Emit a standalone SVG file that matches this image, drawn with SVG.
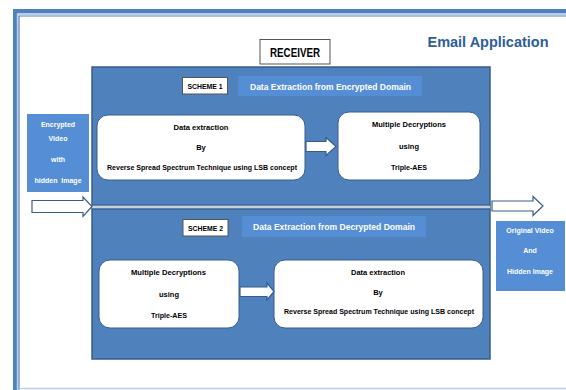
<svg xmlns="http://www.w3.org/2000/svg" width="566" height="390" viewBox="0 0 566 390">
<style>
text{font-family:"Liberation Sans",Arial,sans-serif;font-weight:bold;text-anchor:middle}
.dk{fill:#000;font-size:7.5px}
.wt{fill:#fff;font-size:7px}
.band{fill:#558ED5}
.bandtxt{fill:#fff;font-size:9.5px}
.box{fill:#fff;stroke:#385D8A;stroke-width:1}
.arrow{fill:#fff;stroke:#385D8A;stroke-width:1.2;stroke-linejoin:miter}
.lbl{fill:#fff;stroke:#555;stroke-width:1}
</style>
<rect width="566" height="390" fill="#fff"/>
<!-- frame -->
<g id="frame">
<line x1="13" y1="11" x2="566" y2="11" stroke="#4F81BD" stroke-width="4"/>
<line x1="15" y1="9" x2="15" y2="390" stroke="#4F81BD" stroke-width="4"/>
<line x1="17" y1="14" x2="566" y2="14" stroke="#B9CDE5" stroke-width="2"/>
<line x1="17.5" y1="14" x2="17.5" y2="390" stroke="#B9CDE5" stroke-width="1.5"/>
<line x1="18.5" y1="16" x2="566" y2="16" stroke="#4F81BD" stroke-width="1.2"/>
<line x1="19" y1="16" x2="19" y2="390" stroke="#4F81BD" stroke-width="1.2"/>
<line x1="19" y1="388.5" x2="566" y2="388.5" stroke="#B9CDE5" stroke-width="1.5"/>
</g>
<g id="title">
<text x="488" y="47" style="font-size:15.5px;fill:#2F5E99" textLength="121" lengthAdjust="spacingAndGlyphs">Email Application</text>
</g>
<g id="receiver">
<rect class="lbl" x="260" y="39.5" width="70" height="24.5"/>
<text x="295" y="57" style="font-size:12px;fill:#000" textLength="50" lengthAdjust="spacingAndGlyphs">RECEIVER</text>
</g>
<g id="panel">
<rect x="92" y="67" width="398" height="292" fill="#4F81BD" stroke="#385D8A" stroke-width="1.5"/>
<line x1="92" y1="205" x2="490" y2="205" stroke="#385D8A" stroke-width="1"/>
<line x1="92" y1="207" x2="490" y2="207" stroke="#C9D0DA" stroke-width="2.5"/>
<line x1="92" y1="209.2" x2="490" y2="209.2" stroke="#385D8A" stroke-width="1"/>
</g>
<g id="scheme1-label">
<rect class="lbl" x="182.5" y="77.5" width="45" height="16.5"/>
<text x="205" y="88.5" style="font-size:7px;fill:#000" textLength="35" lengthAdjust="spacingAndGlyphs">SCHEME 1</text>
<rect class="band" x="238" y="76" width="184" height="20"/>
<text class="bandtxt" x="330.5" y="89.5" textLength="161" lengthAdjust="spacingAndGlyphs">Data Extraction from Encrypted Domain</text>
</g>
<g id="s1-extract">
<rect class="box" x="97" y="115" width="208" height="65" rx="11"/>
<text class="dk" x="201" y="130" textLength="55" lengthAdjust="spacingAndGlyphs">Data extraction</text>
<text class="dk" x="201" y="150">By</text>
<text class="dk" x="202" y="170" textLength="190" lengthAdjust="spacingAndGlyphs">Reverse Spread Spectrum Technique using LSB concept</text>
</g>
<g id="s1-decrypt">
<rect class="box" x="338" y="112" width="142" height="68" rx="11"/>
<text class="dk" x="409" y="127" textLength="74" lengthAdjust="spacingAndGlyphs">Multiple Decryptions</text>
<text class="dk" x="409" y="149">using</text>
<text class="dk" x="409" y="170" textLength="36" lengthAdjust="spacingAndGlyphs">Triple-AES</text>
</g>
<g id="scheme2-label">
<rect class="lbl" x="183" y="219.5" width="45" height="16.5"/>
<text x="205.5" y="230.5" style="font-size:7px;fill:#000" textLength="35" lengthAdjust="spacingAndGlyphs">SCHEME 2</text>
<rect class="band" x="242" y="216" width="184" height="21"/>
<text class="bandtxt" x="334" y="230" textLength="162" lengthAdjust="spacingAndGlyphs">Data Extraction from Decrypted Domain</text>
</g>
<g id="s2-decrypt">
<rect class="box" x="99" y="260" width="140" height="68" rx="11"/>
<text class="dk" x="168.5" y="275" textLength="75" lengthAdjust="spacingAndGlyphs">Multiple Decryptions</text>
<text class="dk" x="169" y="297">using</text>
<text class="dk" x="169" y="318" textLength="36" lengthAdjust="spacingAndGlyphs">Triple-AES</text>
</g>
<g id="s2-extract">
<rect class="box" x="274" y="260" width="209" height="68" rx="11"/>
<text class="dk" x="378" y="275" textLength="54" lengthAdjust="spacingAndGlyphs">Data extraction</text>
<text class="dk" x="378" y="295">By</text>
<text class="dk" x="379" y="314" textLength="190" lengthAdjust="spacingAndGlyphs">Reverse Spread Spectrum Technique using LSB concept</text>
</g>
<g id="input">
<rect class="band" x="27" y="114" width="62" height="78"/>
<text class="wt" x="58" y="127">Encrypted</text>
<text class="wt" x="58" y="141">Video</text>
<text class="wt" x="58" y="162">with</text>
<text class="wt" x="58" y="183" xml:space="preserve">hidden  Image</text>
</g>
<g id="output">
<rect class="band" x="496" y="221" width="69" height="70"/>
<text class="wt" x="530" y="233">Original Video</text>
<text class="wt" x="530" y="253">And</text>
<text class="wt" x="530" y="274">Hidden Image</text>
</g>
<g id="connectors">
<polygon class="arrow" points="32,200.5 83,200.5 83,197 92,206.5 83,216.5 83,212.5 32,212.5"/>
<polygon class="arrow" points="492,201 533,201 533,196.5 543,206 533,215.5 533,211 492,211"/>
<polygon class="arrow" points="306,141.5 326,141.5 326,137.5 336,146.5 326,155.5 326,151.5 306,151.5"/>
<polygon class="arrow" points="240,287 267,287 267,283 274,291.5 267,300 267,296.5 240,296.5"/>
</g>
</svg>
